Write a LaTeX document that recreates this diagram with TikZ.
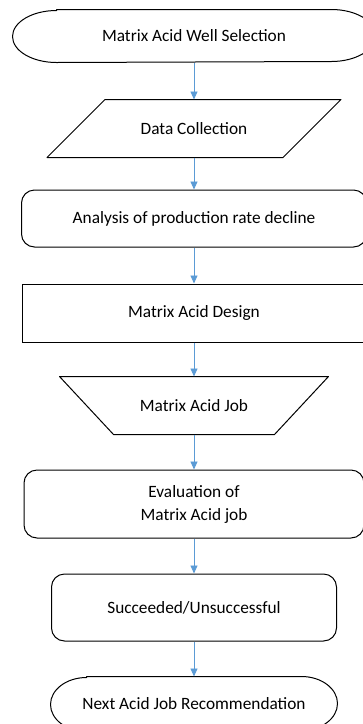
\documentclass[tikz,border=0pt]{standalone}
\usepackage{fontspec}
\setmainfont{Carlito}
\usepackage{xcolor}
\usepackage{tikz}
\usetikzlibrary{arrows.meta, positioning}
\definecolor{flowblue}{HTML}{5B9BD5}

\begin{document}
\begin{tikzpicture}[
    node distance=34pt,
    font=\fontsize{17.3}{23}\selectfont,
    base/.style={line width=1pt, align=center, inner sep=2pt, rectangle},
    blank/.style={base, draw=none},
    proc/.style={base, draw},
    rproc/.style={base, draw, rounded corners=13pt},
    outline/.style={draw, line width=1pt, line join=round},
    flow/.style={-{Triangle[width=7pt,length=8pt]}, flowblue, line width=0.9pt}
]
\useasboundingbox (0,0) rectangle (363pt,-724pt);

\node[blank, minimum width=362pt, minimum height=52pt] (select) at (194pt,-36pt) {Matrix Acid Well Selection};
\node[blank, minimum width=235pt, minimum height=57pt, below=37pt of select] (collect) {Data Collection};
\node[rproc, minimum width=345pt, minimum height=57pt, below=32pt of collect] (decline) {Analysis of production rate decline};
\node[proc, minimum width=343pt, minimum height=58pt, below=36pt of decline] (design) {Matrix Acid Design};
\node[blank, minimum width=214pt, minimum height=57pt, below=34pt of design] (job) {Matrix Acid Job};
\node[rproc, minimum width=340pt, minimum height=68pt, below=35pt of job] (evaluate) {Evaluation of\\Matrix Acid job};
\node[rproc, minimum width=285pt, minimum height=67pt, below=35pt of evaluate] (outcome) {Succeeded/Unsuccessful};
\node[blank, minimum width=286pt, minimum height=54pt, below=35pt of outcome] (next) {Next Acid Job Recommendation};

% terminators with elliptic ends
\draw[outline] ([xshift=44pt]select.north west) -- ([xshift=-44pt]select.north east)
    arc[start angle=90, end angle=-90, x radius=44pt, y radius=26pt]
    -- ([xshift=44pt]select.south west)
    arc[start angle=270, end angle=90, x radius=44pt, y radius=26pt] -- cycle;
\draw[outline] ([xshift=36pt]next.north west) -- ([xshift=-36pt]next.north east)
    arc[start angle=90, end angle=-90, x radius=36pt, y radius=27pt]
    -- ([xshift=36pt]next.south west)
    arc[start angle=270, end angle=90, x radius=36pt, y radius=27pt] -- cycle;
% data (parallelogram)
\draw[outline] ([xshift=29pt]collect.north west) -- ([xshift=29pt]collect.north east)
    -- ([xshift=-29pt]collect.south east) -- ([xshift=-29pt]collect.south west) -- cycle;
% manual operation (trapezoid)
\draw[outline] ([xshift=-27pt]job.north west) -- ([xshift=27pt]job.north east)
    -- ([xshift=-27pt]job.south east) -- ([xshift=27pt]job.south west) -- cycle;

\draw[flow] (select) -- (collect);
\draw[flow] (collect) -- (decline);
\draw[flow] (decline) -- (design);
\draw[flow] (design) -- (job);
\draw[flow] (job) -- (evaluate);
\draw[flow] (evaluate) -- (outcome);
\draw[flow] (outcome) -- (next);
\end{tikzpicture}
\end{document}
